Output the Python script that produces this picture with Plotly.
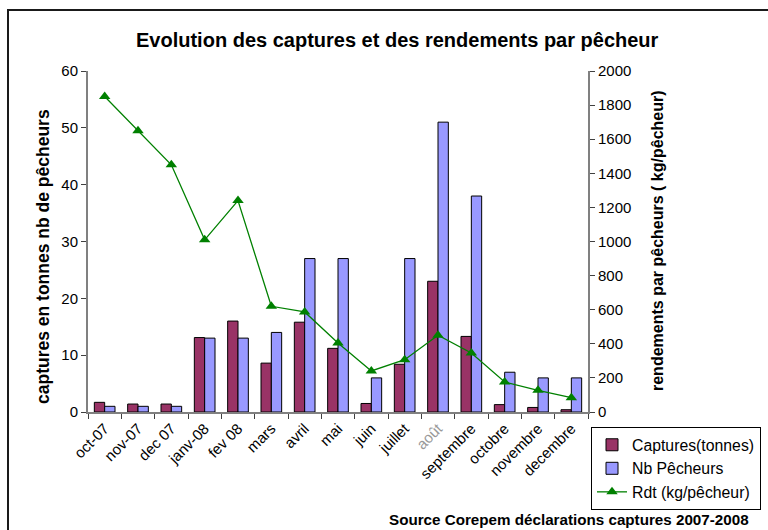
import plotly.graph_objects as go

categories = ["oct-07", "nov-07", "dec 07", "janv-08", "fev 08", "mars", "avril", "mai",
              "juin", "juillet", "août", "septembre", "octobre", "novembre", "decembre"]
captures = [1.7, 1.4, 1.4, 13.1, 16.0, 8.6, 15.8, 11.2, 1.5, 8.4, 23.0, 13.3, 1.3, 0.8, 0.4]
pecheurs = [1, 1, 1, 13, 13, 14, 27, 27, 6, 27, 51, 38, 7, 6, 6]
rdt = [1850, 1650, 1450, 1010, 1240, 620, 587, 405, 241, 307, 450, 346, 176, 127, 84]
tick_text = [c if c != "août" else '<span style="color:#999999">août</span>' for c in categories]

FONT = "Liberation Sans, Arial, sans-serif"

fig = go.Figure()
fig.add_trace(go.Bar(x=categories, y=captures, name="Captures(tonnes)",
                     marker=dict(color="#993366", line=dict(color="black", width=1))))
fig.add_trace(go.Bar(x=categories, y=pecheurs, name="Nb Pêcheurs",
                     marker=dict(color="#9999FF", line=dict(color="black", width=1))))
fig.add_trace(go.Scatter(x=categories, y=rdt, name="Rdt (kg/pêcheur)", yaxis="y2",
                         mode="lines+markers",
                         line=dict(color="#008000", width=1.3),
                         marker=dict(symbol="triangle-up", size=10, color="#008000")))

axis_common = dict(showgrid=False, zeroline=False, showline=True, linecolor="#808080",
                   linewidth=2, tickcolor="#404040", tickfont=dict(family=FONT, size=15, color="black"))

fig.update_layout(
    width=768, height=530,
    margin=dict(l=88, r=180, t=71, b=118, autoexpand=False),
    paper_bgcolor="white", plot_bgcolor="white",
    font=dict(family=FONT, color="black"),
    barmode="group", bargap=0.38, bargroupgap=0,
    showlegend=True,
    legend=dict(xref="container", yref="container", x=591 / 768, y=(530 - 427) / 530,
                xanchor="left", yanchor="top",
                bordercolor="black", borderwidth=1, bgcolor="white",
                font=dict(family=FONT, size=15.8), tracegroupgap=0,
                itemwidth=30),
    xaxis=dict(**axis_common, type="category", tickmode="array", tickvals=categories,
               ticktext=tick_text, tickangle=-45, ticks="outside", ticklen=5,
               tickson="boundaries", range=[-0.5, 14.5]),
    yaxis=dict(**axis_common, range=[0, 60], tickvals=[0, 10, 20, 30, 40, 50, 60],
               ticks="outside", ticklen=5),
    yaxis2=dict(**axis_common, range=[0, 2000], overlaying="y", side="right",
                tickvals=list(range(0, 2001, 200)), ticks="outside", ticklen=5),
    yaxis3=dict(range=[0, 60], overlaying="y", side="left", showline=False, showgrid=False,
                zeroline=False, showticklabels=False, ticks="inside", ticklen=5,
                tickcolor="#404040", tickvals=[0, 10, 20, 30, 40, 50, 60]),
    yaxis4=dict(range=[0, 2000], overlaying="y", side="right", showline=False, showgrid=False,
                zeroline=False, showticklabels=False, ticks="inside", ticklen=5,
                tickcolor="#404040", tickvals=list(range(0, 2001, 200))),
)

fig.add_annotation(text="<b>Evolution des captures et des rendements par pêcheur</b>",
                   xref="paper", yref="paper", x=(397 - 88) / 500, y=(412 - 40) / 341,
                   showarrow=False, font=dict(family=FONT, size=20), xanchor="center", yanchor="middle")
fig.add_annotation(text="<b>captures en tonnes nb de pêcheurs</b>", textangle=-90,
                   xref="paper", yref="paper", x=(43 - 88) / 500, y=(412 - 257) / 341,
                   showarrow=False, font=dict(family=FONT, size=17.5), xanchor="center", yanchor="middle")
fig.add_annotation(text="<b>rendements par pêcheurs ( kg/pêcheur)</b>", textangle=-90,
                   xref="paper", yref="paper", x=(657 - 88) / 500, y=(412 - 241) / 341,
                   showarrow=False, font=dict(family=FONT, size=16), xanchor="center", yanchor="middle")
fig.add_annotation(text="<b>Source Corepem déclarations captures 2007-2008</b>",
                   xref="paper", yref="paper", x=(751 - 88) / 500, y=(412 - 519) / 341,
                   showarrow=False, font=dict(family=FONT, size=15.2), xanchor="right", yanchor="middle")

# outer chart frame
fig.add_shape(type="rect", xref="paper", yref="paper",
              x0=(8 - 88) / 500, x1=(790 - 88) / 500, y0=(412 - 560) / 341, y1=(412 - 10) / 341,
              line=dict(color="#1a1a1a", width=2), fillcolor="rgba(0,0,0,0)", layer="below")

fig.write_html("out.html", config={"displayModeBar": False},
               post_script="document.body.style.margin='0';document.body.style.overflow='hidden';")
